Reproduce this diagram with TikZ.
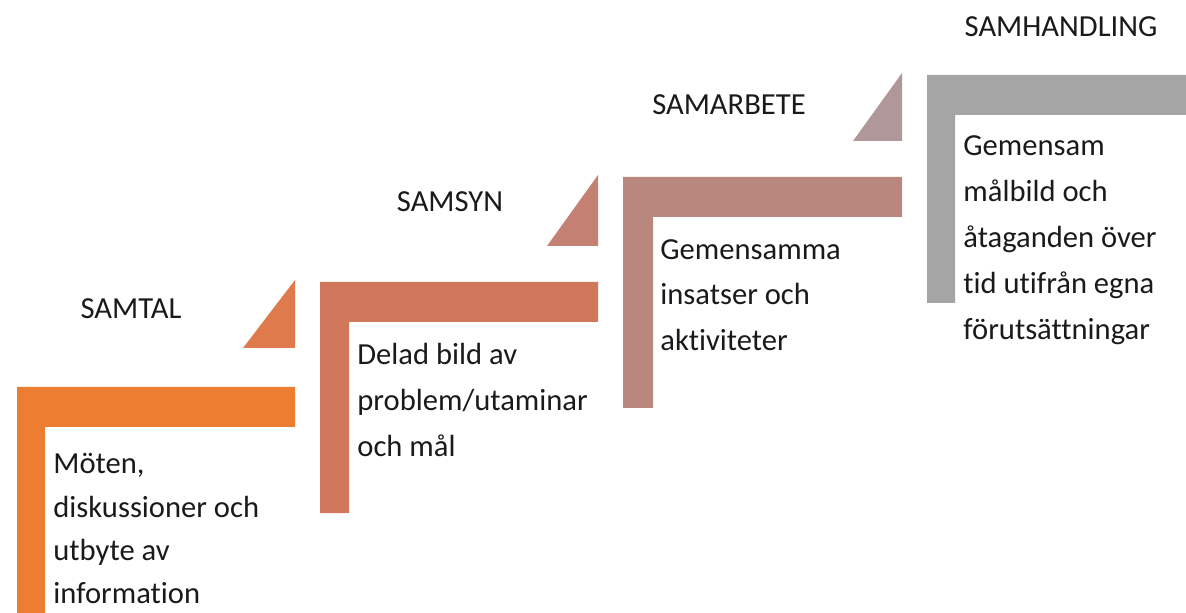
\documentclass[tikz,border=0pt]{standalone}
\usepackage{fontspec}
\setmainfont{Carlito}[Ligatures=NoCommon]
\definecolor{c1}{HTML}{ED7D31}
\definecolor{t1}{HTML}{DE7A4C}
\definecolor{c2}{HTML}{D0775C}
\definecolor{t2}{HTML}{C48072}
\definecolor{c3}{HTML}{B8877E}
\definecolor{t3}{HTML}{B0979A}
\definecolor{c4}{HTML}{A5A5A5}
\definecolor{txt}{HTML}{1A1A1A}
\tikzset{
  head/.style={anchor=base, inner sep=0pt, text=txt, font=\fontsize{15.3pt}{22pt}\selectfont},
  body/.style={anchor=north west, inner sep=0pt, align=left, text=txt, font=\fontsize{15.3pt}{#1}\selectfont},
}
\begin{document}
\begin{tikzpicture}[x=0.5pt,y=-0.5pt]
\useasboundingbox (0,0) rectangle (1186,613);
\clip (0,0) rectangle (1186,613);
% steps
\fill[c1] (17,620) -- (17,387) -- (295,387) -- (295,427) -- (45,427) -- (45,620) -- cycle;
\fill[t1] (295,280) -- (243,348) -- (295,348) -- cycle;
\fill[c2] (320,513) -- (320,282) -- (598,282) -- (598,322) -- (349,322) -- (349,513) -- cycle;
\fill[t2] (598,175) -- (547,246) -- (598,246) -- cycle;
\fill[c3] (623,408) -- (623,177) -- (902,177) -- (902,217) -- (653,217) -- (653,408) -- cycle;
\fill[t3] (902,73) -- (853,141) -- (902,141) -- cycle;
\fill[c4] (927,303) -- (927,75) -- (1195,75) -- (1195,115) -- (955,115) -- (955,303) -- cycle;
% headings
\node[head] (h1) at (131,319) {SAMTAL};
\node[head] (h2) at (450,212) {SAMSYN};
\node[head] (h3) at (729,115) {SAMARBETE};
\node[head] (h4) at (1061,37) {SAMHANDLING};
% bodies
\node[body=21.7pt] (b1) at (53,453) {Möten,\\diskussioner och\\utbyte av\\information};
\node[body=23pt] (b2) at (357,343) {Delad bild av\\problem/utaminar\\och mål};
\node[body=22.8pt] (b3) at (660,239) {Gemensamma\\insatser och\\aktiviteter};
\node[body=23pt] (b4) at (963,135) {Gemensam\\målbild och\\åtaganden över\\tid utifrån egna\\förutsättningar};
\end{tikzpicture}
\end{document}
